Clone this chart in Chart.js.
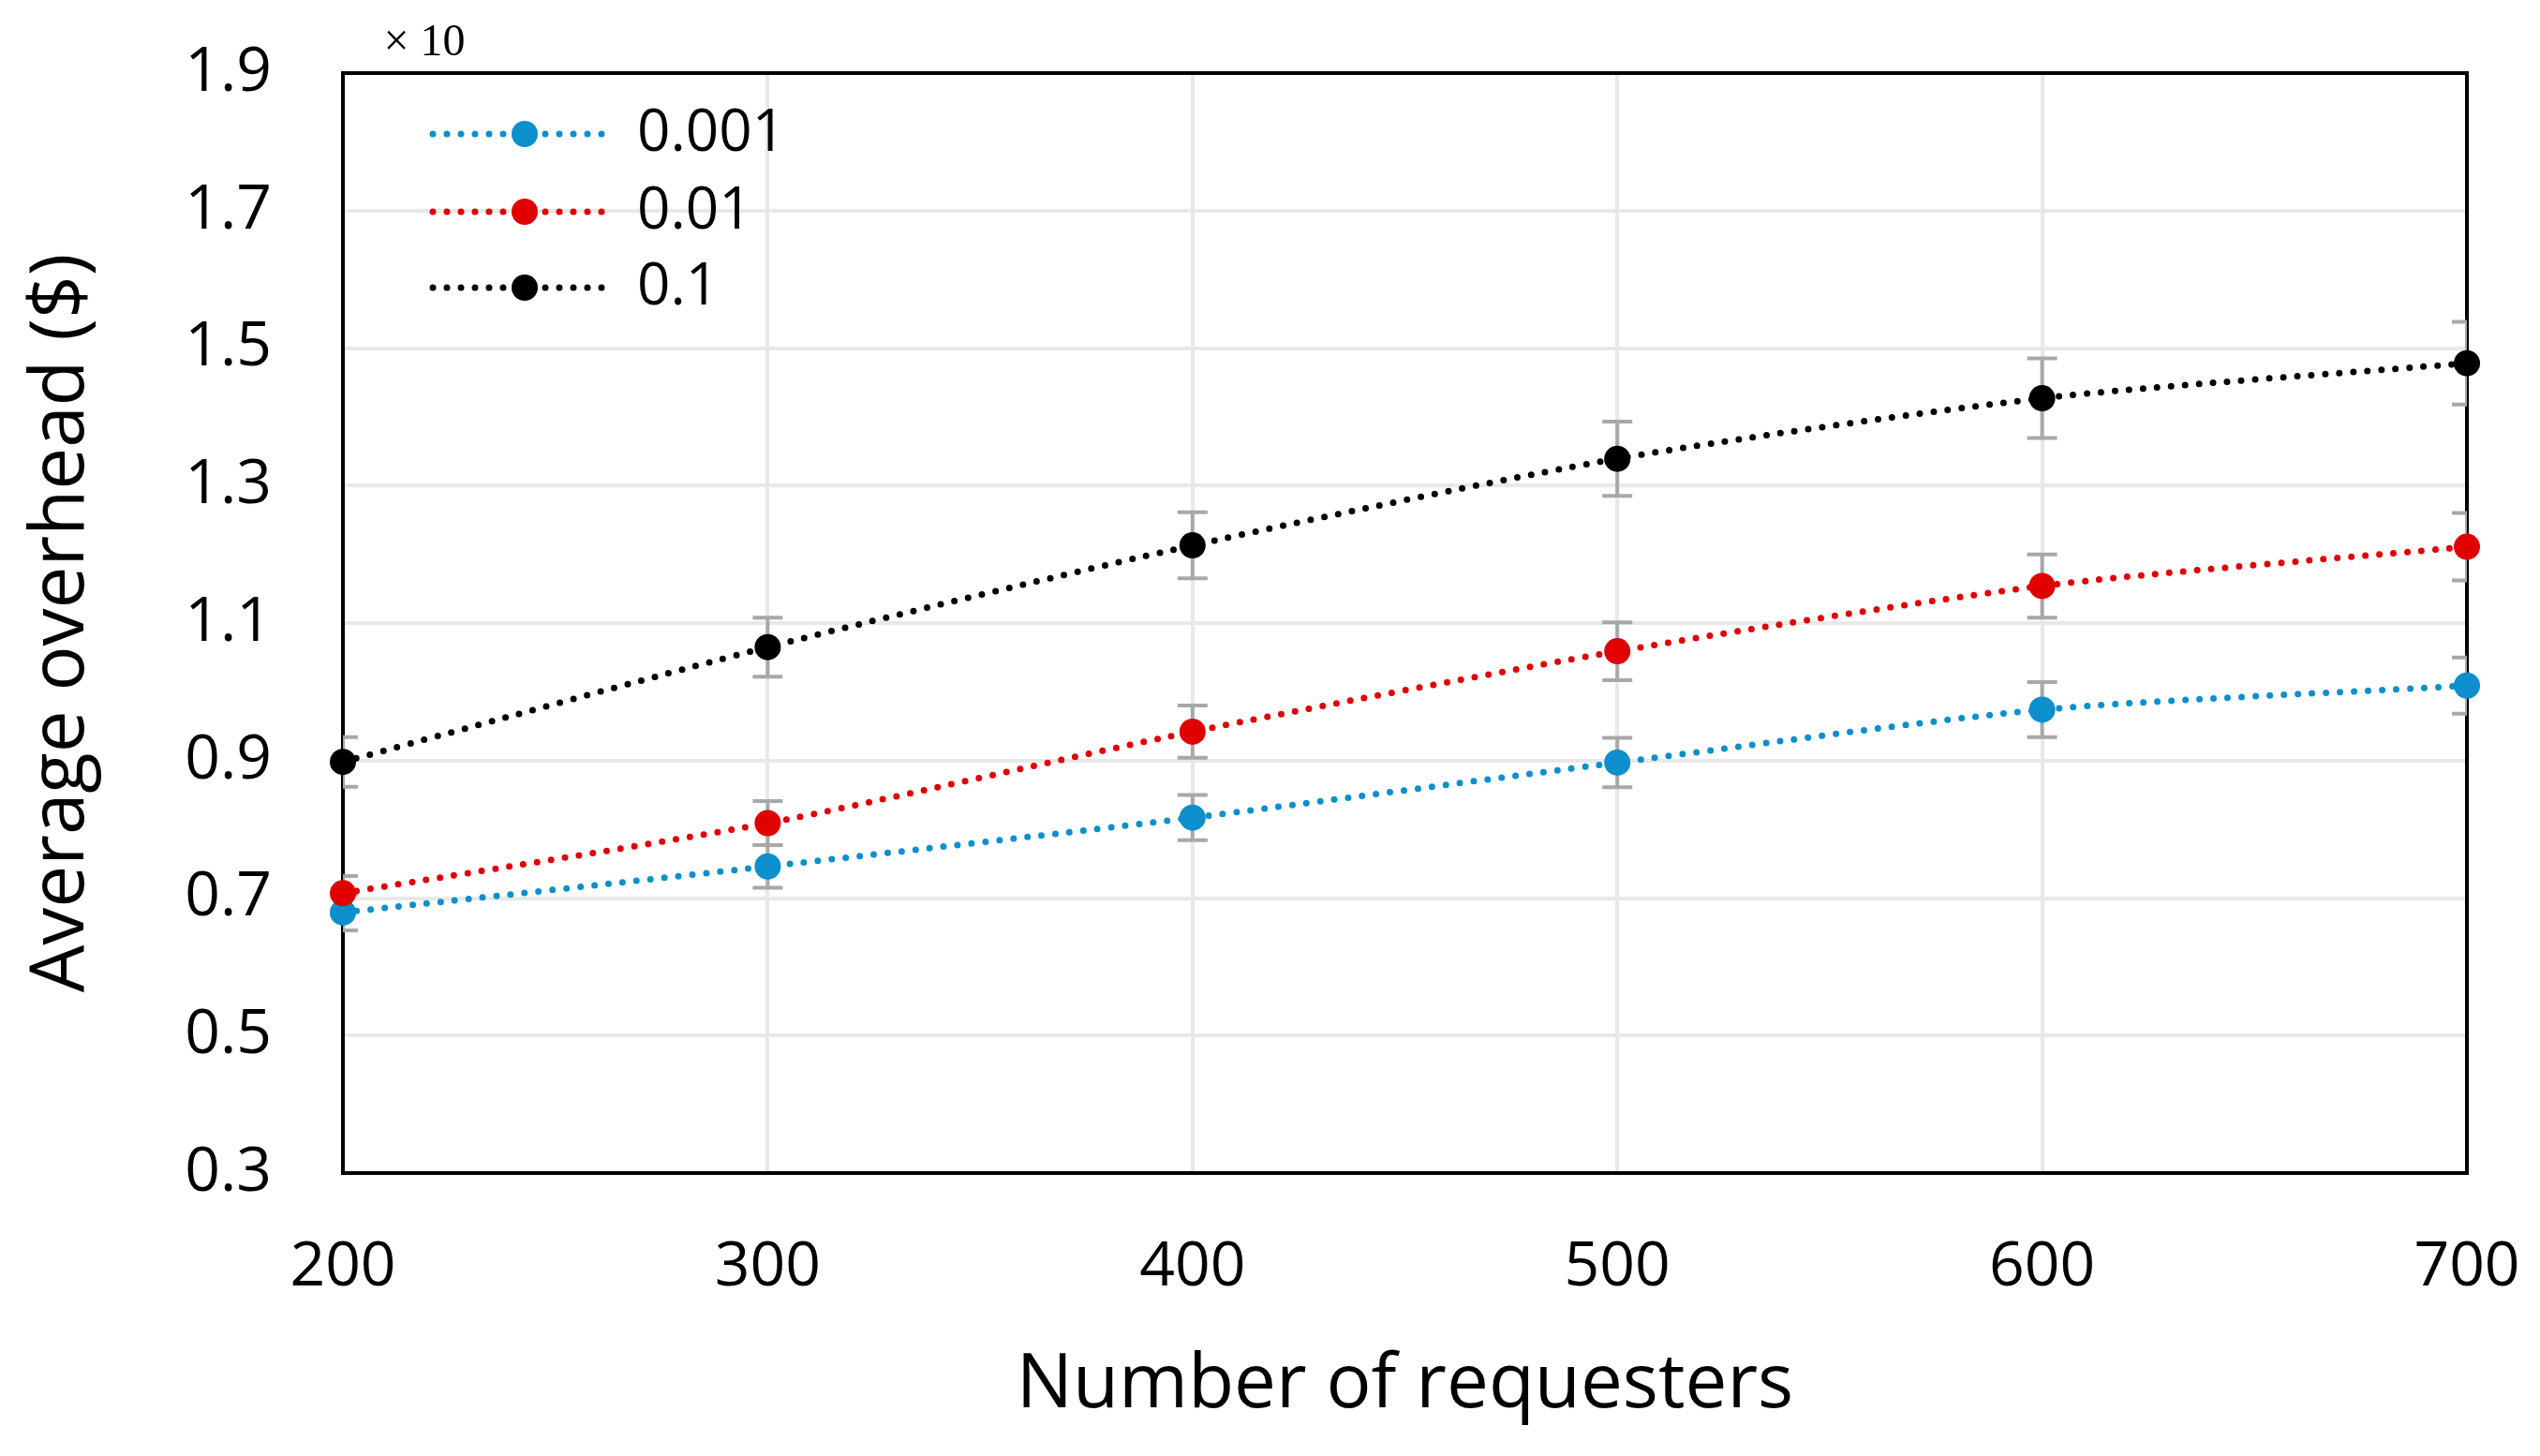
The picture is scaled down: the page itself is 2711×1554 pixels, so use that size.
<!DOCTYPE html>
<html>
<head>
<meta charset="utf-8">
<script src="https://cdn.jsdelivr.net/npm/chart.js@4.4.1/dist/chart.umd.min.js"></script>
<style>
html,body{margin:0;padding:0;background:#fff;}
canvas{display:block;}
</style>
</head>
<body>
<canvas id="c" width="2711" height="1554"></canvas>
<script>
// ---- data ----
const categories = ['200', '300', '400', '500', '600', '700'];
const seriesNames = ['0.001', '0.01', '0.1'];
const values001 = [0.679, 0.746, 0.817, 0.897, 0.974, 1.009];
const values01  = [0.707, 0.809, 0.942, 1.059, 1.154, 1.211];
const values1   = [0.898, 1.065, 1.213, 1.339, 1.427, 1.478];
const errors001 = [0.026, 0.031, 0.033, 0.036, 0.040, 0.041];
const errors01  = [0.025, 0.032, 0.038, 0.042, 0.046, 0.049];
const errors1   = [0.036, 0.043, 0.048, 0.054, 0.058, 0.060];
const yTicks = [0.3, 0.5, 0.7, 0.9, 1.1, 1.3, 1.5, 1.7, 1.9];
const multiplierText = '× 10';
const xTitle = 'Number of requesters';
const yTitle = 'Average overhead ($)';

const colors = ['#0c8fcc', '#e00000', '#000000'];
const seriesValues = [values001, values01, values1];
const seriesErrors = [errors001, errors01, errors1];

const FONT = '"Open Sans", "Noto Sans", sans-serif';
const DOT_DASH = [0, 15];

const errorBarPlugin = {
  id: 'errorBars',
  beforeDatasetsDraw(chart) {
    const ctx = chart.ctx;
    const a = chart.chartArea;
    // top and right frame
    ctx.save();
    ctx.strokeStyle = '#000';
    ctx.lineWidth = 4;
    ctx.beginPath();
    ctx.moveTo(a.left, a.top);
    ctx.lineTo(a.right, a.top);
    ctx.lineTo(a.right, a.bottom);
    ctx.stroke();
    ctx.restore();
    // error bars (clipped to plot area)
    const yScale = chart.scales.y;
    ctx.save();
    ctx.beginPath();
    ctx.rect(a.left, a.top, a.right - a.left, a.bottom - a.top);
    ctx.clip();
    ctx.strokeStyle = '#a8a8a8';
    ctx.lineWidth = 4;
    chart.data.datasets.forEach((ds, i) => {
      const meta = chart.getDatasetMeta(i);
      const errs = seriesErrors[i];
      meta.data.forEach((pt, j) => {
        const v = ds.data[j];
        const yTop = yScale.getPixelForValue(v + errs[j]);
        const yBot = yScale.getPixelForValue(v - errs[j]);
        const x = pt.x;
        const hw = 16;
        ctx.beginPath();
        ctx.moveTo(x, yTop); ctx.lineTo(x, yBot);
        ctx.moveTo(x - hw, yTop); ctx.lineTo(x + hw, yTop);
        ctx.moveTo(x - hw, yBot); ctx.lineTo(x + hw, yBot);
        ctx.stroke();
      });
    });
    ctx.restore();
  },
  afterDraw(chart) {
    const ctx = chart.ctx;
    // legend inside plot
    const rowsY = [143, 226, 307];
    ctx.save();
    seriesNames.forEach((name, i) => {
      const y = rowsY[i];
      ctx.strokeStyle = colors[i];
      ctx.lineWidth = 7;
      ctx.lineCap = 'round';
      ctx.setLineDash(DOT_DASH);
      ctx.beginPath();
      ctx.moveTo(462, y);
      ctx.lineTo(654, y);
      ctx.stroke();
      ctx.setLineDash([]);
      ctx.fillStyle = colors[i];
      ctx.beginPath();
      ctx.arc(560, y, 14, 0, Math.PI * 2);
      ctx.fill();
      ctx.fillStyle = '#000';
      ctx.font = '62px ' + FONT;
      ctx.textAlign = 'left';
      ctx.textBaseline = 'middle';
      ctx.fillText(name, 680, y);
    });
    // multiplier
    ctx.fillStyle = '#000';
    ctx.font = '48px "Liberation Serif", "DejaVu Serif", serif';
    ctx.textAlign = 'center';
    ctx.textBaseline = 'middle';
    ctx.fillText(multiplierText, 453, 46);
    ctx.restore();
  }
};

const datasets = seriesNames.map((name, i) => ({
  label: name,
  data: seriesValues[i],
  borderColor: colors[i],
  backgroundColor: colors[i],
  borderWidth: 7,
  borderDash: DOT_DASH,
  borderCapStyle: 'round',
  pointRadius: 14,
  pointHoverRadius: 14,
  pointBorderWidth: 0,
  pointBackgroundColor: colors[i],
  tension: 0.25,
  clip: false,
  order: 3 - i
}));

new Chart(document.getElementById('c'), {
  type: 'line',
  data: { labels: categories, datasets },
  options: {
    responsive: false,
    devicePixelRatio: 1,
    animation: false,
    layout: { padding: { top: 78, right: 78, bottom: 0, left: 0 } },
    plugins: { legend: { display: false }, tooltip: { enabled: false } },
    scales: {
      x: {
        type: 'category',
        offset: false,
        afterFit: s => { s.height = 302; s.paddingLeft = 0; s.paddingRight = 0; },
        grid: { color: '#e8e8e8', lineWidth: 4, drawTicks: false },
        border: { display: true, color: '#000', width: 4 },
        ticks: { color: '#000', font: { family: FONT, size: 66 }, padding: 62, maxRotation: 0 },
        title: { display: true, text: xTitle, color: '#000', font: { family: FONT, size: 80 }, padding: { top: 0, bottom: 27 } }
      },
      y: {
        type: 'linear',
        min: yTicks[0],
        max: yTicks[yTicks.length - 1],
        afterFit: s => { s.width = 366; s.paddingTop = 0; s.paddingBottom = 0; },
        afterBuildTicks: s => { s.ticks = yTicks.map(v => ({ value: v })); },
        grid: { color: '#e8e8e8', lineWidth: 4, drawTicks: false },
        border: { display: true, color: '#000', width: 4 },
        ticks: { color: '#000', font: { family: FONT, size: 66 }, padding: 76, callback: v => Number(v).toFixed(1) },
        title: { display: true, text: yTitle, color: '#000', font: { family: FONT, size: 80 }, padding: { top: 18, bottom: 0 } }
      }
    }
  },
  plugins: [errorBarPlugin]
});
</script>
</body>
</html>
